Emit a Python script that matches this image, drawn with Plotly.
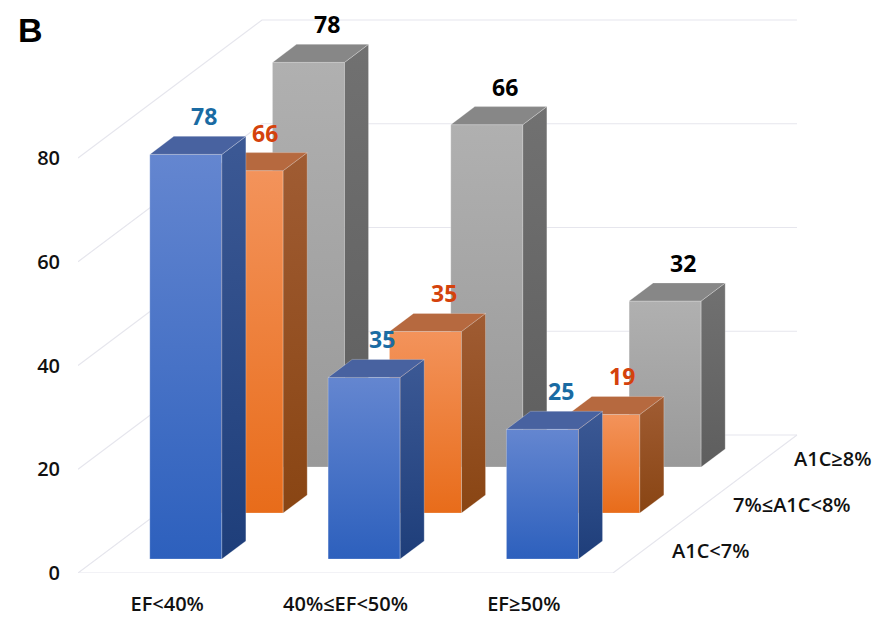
import plotly.graph_objects as go

# ---------------- data ----------------
categories = ["EF<40%", "40%≤EF<50%", "EF≥50%"]
series_names = ["A1C<7%", "7%≤A1C<8%", "A1C≥8%"]
a1c_lt7 = [78, 35, 25]
a1c_7to8 = [66, 35, 19]
a1c_ge8 = [78, 66, 32]
y_ticks = [0, 20, 40, 60, 80]
series_values = [a1c_lt7, a1c_7to8, a1c_ge8]

# ---------------- style / geometry ----------------
front_colors = [("#2D60BD", "#6486D0"), ("#E86C1A", "#F3935B"), ("#999999", "#B0B0B0")]
side_colors = [("#1E3E7A", "#3C5995"), ("#894513", "#A05C33"), ("#5E5E5E", "#717171")]
top_colors = ["#4862A0", "#B6693F", "#878787"]
label_colors = ["#1A6BA3", "#D4420C", "#000000"]
grid_color = "#E6E6ED"

W, H = 880, 618
ML, MB = 70, 53          # page has an 8px body margin
PX_CAT = 178.33          # pixels per category slot
PX_VAL = 5.1875          # pixels per value unit
KX = 61.33 / PX_CAT      # oblique depth shift (x) per depth row
KY = 46.0 / PX_VAL       # oblique depth shift (y) per depth row
HALF_W = 0.202
HALF_D = 0.196
N_ROWS = len(series_values)
N_CAT = len(categories)
FONT = "Open Sans"


def proj(x, v, z):
    return x + z * KX, v + z * KY


fig = go.Figure()

# walls / grid lines
gx, gy = [], []
for t in y_ticks:
    p0 = proj(0, t, 0)
    p1 = proj(0, t, N_ROWS)
    p2 = proj(N_CAT, t, N_ROWS)
    gx += [p0[0], p1[0], p2[0], None]
    gy += [p0[1], p1[1], p2[1], None]
f0 = proj(0, 0, 0)
f1 = proj(N_CAT, 0, 0)
f2 = proj(N_CAT, 0, N_ROWS)
gx += [f0[0], f1[0], f2[0], None]
gy += [f0[1], f1[1], f2[1], None]
fig.add_trace(go.Scatter(x=gx, y=gy, mode="lines", line=dict(color=grid_color, width=1.2),
                         hoverinfo="skip", showlegend=False, cliponaxis=False))

edge = dict(width=0.7, color="rgba(255,255,255,0.35)")

for s in reversed(range(N_ROWS)):
    vals = series_values[s]
    z0 = s + 0.5 - HALF_D
    z1 = s + 0.5 + HALF_D
    for i, v in enumerate(vals):
        cx = i + 0.5
        xl, xr = cx - HALF_W, cx + HALF_W
        # front face
        a = proj(xl, 0, z0); b = proj(xr, 0, z0); c = proj(xr, v, z0); d = proj(xl, v, z0)
        fig.add_trace(go.Scatter(
            x=[a[0], b[0], c[0], d[0], a[0]], y=[a[1], b[1], c[1], d[1], a[1]],
            mode="lines", fill="toself", line=edge,
            fillgradient=dict(type="vertical",
                              colorscale=[[0, front_colors[s][0]], [1, front_colors[s][1]]]),
            hoverinfo="skip", showlegend=False, cliponaxis=False))
        # right side face
        a = proj(xr, 0, z0); b = proj(xr, 0, z1); c = proj(xr, v, z1); d = proj(xr, v, z0)
        fig.add_trace(go.Scatter(
            x=[a[0], b[0], c[0], d[0], a[0]], y=[a[1], b[1], c[1], d[1], a[1]],
            mode="lines", fill="toself", line=edge,
            fillgradient=dict(type="vertical",
                              colorscale=[[0, side_colors[s][0]], [1, side_colors[s][1]]]),
            hoverinfo="skip", showlegend=False, cliponaxis=False))
        # top face
        a = proj(xl, v, z0); b = proj(xr, v, z0); c = proj(xr, v, z1); d = proj(xl, v, z1)
        fig.add_trace(go.Scatter(
            x=[a[0], b[0], c[0], d[0], a[0]], y=[a[1], b[1], c[1], d[1], a[1]],
            mode="lines", fill="toself", line=edge, fillcolor=top_colors[s],
            hoverinfo="skip", showlegend=False, cliponaxis=False))
        # value label
        lx, ly = proj(cx + 0.035, v, s + 0.5)
        fig.add_annotation(x=lx, y=ly, text=str(v), showarrow=False,
                           xanchor="center", yanchor="bottom", yshift=12, borderpad=0,
                           font=dict(family=FONT, size=23, color=label_colors[s], weight=700))

# depth (series) labels
for s, name in enumerate(series_names):
    px_, py_ = proj(N_CAT, 0, s + 0.5)
    fig.add_annotation(x=px_, y=py_, text=name, showarrow=False, xanchor="left",
                       yanchor="middle", xshift=26,
                       font=dict(family=FONT, size=20, color="#111111", weight=600))

# panel letter
fig.add_annotation(xref="paper", yref="paper", x=0, y=1, xshift=-62, yshift=-1,
                   xanchor="left", yanchor="top", text="B", showarrow=False,
                   font=dict(family="Liberation Sans", size=34, color="#000000", weight=700))

fig.update_layout(
    width=W, height=H, autosize=False,
    margin=dict(l=ML, r=0, t=0, b=MB, pad=0),
    plot_bgcolor="white", paper_bgcolor="white",
    showlegend=False,
    xaxis=dict(range=[0, (W - ML) / PX_CAT], tickvals=[i + 0.5 for i in range(N_CAT)],
               ticktext=categories, showgrid=False, zeroline=False, showline=False,
               ticks="", ticklabelstandoff=17, fixedrange=True,
               tickfont=dict(family=FONT, size=20, color="#111111", weight=600)),
    yaxis=dict(range=[0, (H - MB) / PX_VAL], tickvals=y_ticks,
               showgrid=False, zeroline=False, showline=False,
               ticks="", ticklabelstandoff=17, fixedrange=True,
               tickfont=dict(family=FONT, size=20, color="#111111", weight=600)),
)

fig.write_html("out.html")
